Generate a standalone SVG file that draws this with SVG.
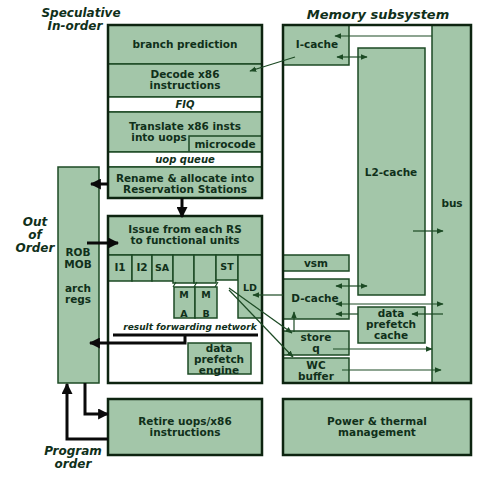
<svg xmlns="http://www.w3.org/2000/svg" width="500" height="489" viewBox="0 0 500 489">
<style>
.box{fill:#a3c6a9;stroke:#1c4a24;stroke-width:1.5}
.wbox{fill:#ffffff;stroke:#1c4a24;stroke-width:1.5}
.outer{fill:none;stroke:#0d2410;stroke-width:2.5}
.t{font-family:"DejaVu Sans","Liberation Sans",sans-serif;font-weight:bold;font-size:10.5px;fill:#10301a;text-anchor:middle}
.ti{font-family:"DejaVu Sans","Liberation Sans",sans-serif;font-weight:bold;font-style:italic;font-size:10px;fill:#10301a;text-anchor:middle}
.h{font-family:"DejaVu Sans","Liberation Sans",sans-serif;font-weight:bold;font-style:italic;font-size:12px;fill:#10301a;text-anchor:middle}
.thin{fill:none;stroke:#1c4a24;stroke-width:1.2}
.thick{fill:none;stroke:#0a0a0a;stroke-width:3}
</style>
<defs>
<marker id="ah" viewBox="0 0 10 10" refX="9" refY="5" markerWidth="7" markerHeight="7" orient="auto-start-reverse" markerUnits="userSpaceOnUse"><path d="M0,1 L10,5 L0,9 z" fill="#1c4a24"/></marker>
<marker id="ahb" viewBox="0 0 10 10" refX="9" refY="5" markerWidth="11" markerHeight="11" orient="auto-start-reverse" markerUnits="userSpaceOnUse"><path d="M0,0 L10,5 L0,10 z" fill="#0a0a0a"/></marker>
</defs>
<rect width="500" height="489" fill="#ffffff"/>

<!-- titles -->
<g id="labels">
<text class="h" x="81" y="17">Speculative</text>
<text class="h" x="75" y="30">In-order</text>
<text class="h" x="378" y="19" style="font-size:13px">Memory subsystem</text>
<text class="h" x="35" y="226">Out</text>
<text class="h" x="35" y="239">of</text>
<text class="h" x="35" y="252">Order</text>
<text class="h" x="73" y="455">Program</text>
<text class="h" x="73" y="468">order</text>
</g>

<!-- front-end pipeline -->
<g id="frontend">
<rect class="box" x="108" y="25" width="154" height="39"/>
<text class="t" x="185" y="48">branch prediction</text>
<rect class="box" x="108" y="64" width="154" height="33"/>
<text class="t" x="185" y="78">Decode x86</text>
<text class="t" x="185" y="89">instructions</text>
<rect class="wbox" x="108" y="97" width="154" height="15"/>
<text class="ti" x="185" y="108">FIQ</text>
<rect class="box" x="108" y="112" width="154" height="40"/>
<text class="t" x="185" y="130">Translate x86 insts</text>
<text class="t" x="159" y="141">into uops</text>
<rect class="box" x="189" y="136" width="73" height="16"/>
<text class="t" x="225" y="148">microcode</text>
<rect class="wbox" x="108" y="152" width="154" height="15"/>
<text class="ti" x="185" y="163">uop queue</text>
<rect class="box" x="108" y="167" width="154" height="31"/>
<text class="t" x="185" y="182">Rename &amp; allocate into</text>
<text class="t" x="185" y="193">Reservation Stations</text>
<rect class="outer" x="108" y="25" width="154" height="173"/>
</g>

<!-- ROB -->
<g id="rob">
<rect class="box" x="58" y="167" width="41" height="216"/>
<text class="t" x="78" y="256">ROB</text>
<text class="t" x="78" y="268">MOB</text>
<text class="t" x="78" y="292">arch</text>
<text class="t" x="78" y="303">regs</text>
</g>

<!-- execution -->
<g id="exec">
<rect fill="#ffffff" x="108" y="216" width="154" height="167"/>
<rect class="box" x="108" y="216" width="154" height="39"/>
<text class="t" x="185" y="233">Issue from each RS</text>
<text class="t" x="185" y="244">to functional units</text>
<rect class="box" x="108" y="255" width="24" height="26"/>
<text class="t" x="120" y="271">I1</text>
<rect class="box" x="132" y="255" width="20" height="26"/>
<text class="t" x="142" y="271">I2</text>
<rect class="box" x="152" y="255" width="21" height="26"/>
<text class="t" x="162" y="271" style="font-size:9.5px">SA</text>
<rect class="box" x="173" y="255" width="21" height="28"/>
<rect class="box" x="194" y="255" width="22" height="28"/>
<polygon fill="#ffffff" points="171,284 218,284 220,287 173,287"/>
<path class="thin" d="M173,287 L176,282 M194,287 L197,282 M215,287 L218,282"/>
<rect class="box" x="174" y="287" width="21" height="31"/>
<rect class="box" x="195" y="287" width="22" height="31"/>
<text class="t" x="184" y="298" style="font-size:9.5px">M</text>
<text class="t" x="184" y="317" style="font-size:9.5px">A</text>
<text class="t" x="206" y="298" style="font-size:9.5px">M</text>
<text class="t" x="206" y="317" style="font-size:9.5px">B</text>
<rect class="box" x="216" y="255" width="22" height="25"/>
<text class="t" x="227" y="270" style="font-size:9.5px">ST</text>
<rect class="box" x="238" y="255" width="24" height="63"/>
<text class="t" x="250" y="291" style="font-size:9.5px">LD</text>
<text class="ti" x="190" y="330" style="font-size:9px">result forwarding network</text>
<rect class="box" x="188" y="343" width="63" height="31"/>
<text class="t" x="219" y="352">data</text>
<text class="t" x="219" y="363">prefetch</text>
<text class="t" x="219" y="374">engine</text>
<rect class="outer" x="108" y="216" width="154" height="167"/>
</g>

<!-- memory subsystem -->
<g id="memory">
<rect fill="#ffffff" x="283" y="25" width="188" height="358"/>
<rect class="box" x="432" y="25" width="39" height="358"/>
<text class="t" x="452" y="207">bus</text>
<rect class="box" x="283" y="25" width="66" height="40"/>
<text class="t" x="317" y="48">I-cache</text>
<rect class="box" x="358" y="48" width="67" height="247"/>
<text class="t" x="391" y="176">L2-cache</text>
<rect class="box" x="283" y="255" width="66" height="16"/>
<text class="t" x="316" y="267">vsm</text>
<rect class="box" x="283" y="279" width="66" height="40"/>
<text class="t" x="315" y="302">D-cache</text>
<rect class="box" x="358" y="307" width="67" height="36"/>
<text class="t" x="391" y="317">data</text>
<text class="t" x="391" y="328">prefetch</text>
<text class="t" x="391" y="339">cache</text>
<rect class="box" x="283" y="331" width="66" height="24"/>
<text class="t" x="316" y="341">store</text>
<text class="t" x="316" y="352">q</text>
<rect class="box" x="283" y="358" width="66" height="25"/>
<text class="t" x="316" y="369">WC</text>
<text class="t" x="316" y="380">buffer</text>
<rect class="outer" x="283" y="25" width="188" height="358"/>
</g>

<!-- bottom -->
<g id="retire">
<rect class="box" x="108" y="399" width="154" height="56"/>
<text class="t" x="185" y="425">Retire uops/x86</text>
<text class="t" x="185" y="436">instructions</text>
<rect class="outer" x="108" y="399" width="154" height="56"/>
</g>
<g id="power">
<rect class="box" x="283" y="399" width="188" height="56"/>
<text class="t" x="377" y="425">Power &amp; thermal</text>
<text class="t" x="377" y="436">management</text>
<rect class="outer" x="283" y="399" width="188" height="56"/>
</g>

<!-- connectors -->
<g id="connectors">
<line class="thick" x1="182" y1="198" x2="182" y2="217" marker-end="url(#ahb)"/>
<line class="thick" x1="108" y1="184" x2="91" y2="184" marker-end="url(#ahb)"/>
<line class="thick" x1="87" y1="243" x2="118" y2="243" marker-end="url(#ahb)"/>
<line class="thick" x1="113" y1="335" x2="258" y2="335"/>
<polyline class="thick" points="185,335 185,343 90,343" marker-end="url(#ahb)"/>
<polyline class="thick" points="85,383 85,414 108,414" marker-end="url(#ahb)"/>
<polyline class="thick" points="108,439 67,439 67,384" marker-end="url(#ahb)"/>

<line class="thin" x1="432" y1="36" x2="335" y2="36" marker-end="url(#ah)"/>
<line class="thin" x1="337" y1="57" x2="367" y2="57" marker-start="url(#ah)" marker-end="url(#ah)"/>
<line class="thin" x1="295" y1="57" x2="250" y2="71" marker-end="url(#ah)"/>
<line class="thin" x1="413" y1="231" x2="443" y2="231" marker-end="url(#ah)"/>
<line class="thin" x1="336" y1="286" x2="367" y2="286" marker-start="url(#ah)" marker-end="url(#ah)"/>
<line class="thin" x1="336" y1="304" x2="443" y2="304" marker-start="url(#ah)" marker-end="url(#ah)"/>
<line class="thin" x1="358" y1="314" x2="336" y2="314" marker-end="url(#ah)"/>
<line class="thin" x1="443" y1="314" x2="412" y2="314" marker-end="url(#ah)"/>
<line class="thin" x1="333" y1="349" x2="432" y2="349" marker-end="url(#ah)"/>
<line class="thin" x1="342" y1="370" x2="441" y2="370" marker-end="url(#ah)"/>
<line class="thin" x1="283" y1="295" x2="253" y2="295" marker-end="url(#ah)"/>
<line class="thin" x1="294" y1="332" x2="294" y2="312" marker-end="url(#ah)"/>
<line class="thin" x1="229" y1="288" x2="292" y2="333" marker-end="url(#ah)"/>
<line class="thin" x1="229" y1="290" x2="293" y2="357" marker-end="url(#ah)"/>
</g>
</svg>
